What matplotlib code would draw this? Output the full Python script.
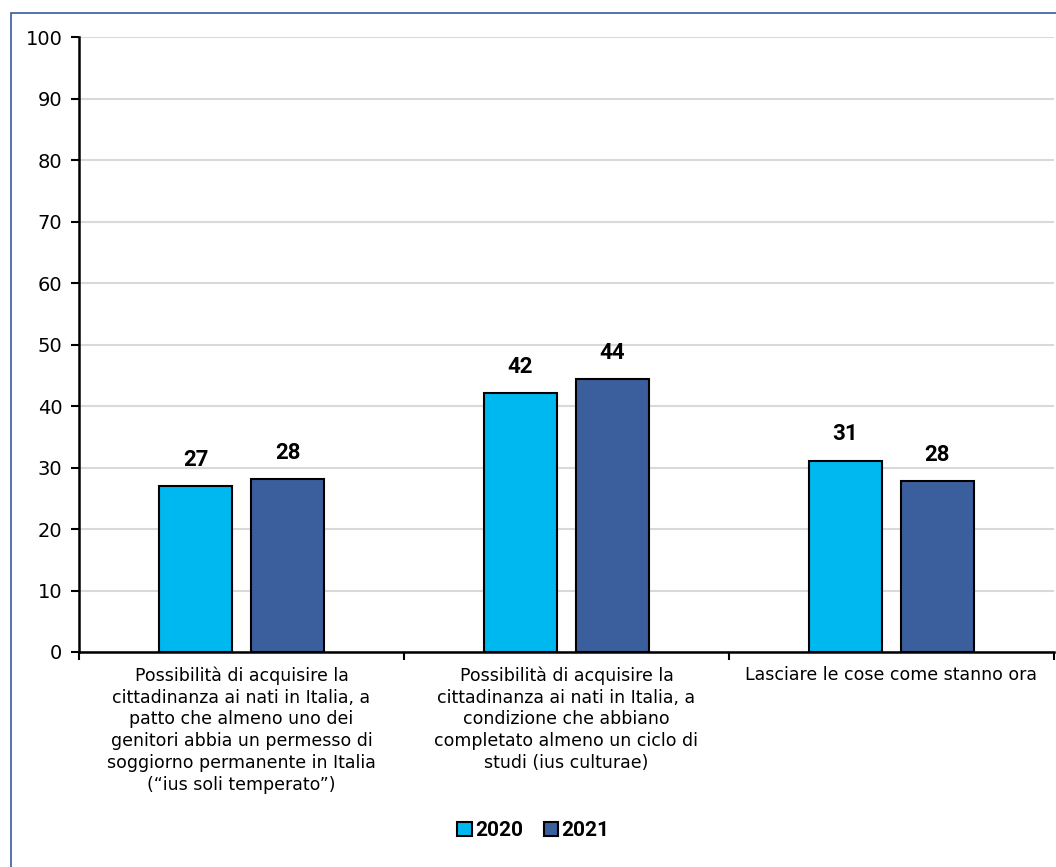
import numpy as np
import matplotlib.pyplot as plt
from matplotlib.patches import Rectangle

categories = [
    "Possibilità di acquisire la\ncittadinanza ai nati in Italia, a\npatto che almeno uno dei\ngenitori abbia un permesso di\nsoggiorno permanente in Italia\n(\u201cius soli temperato\u201d)",
    "Possibilità di acquisire la\ncittadinanza ai nati in Italia, a\ncondizione che abbiano\ncompletato almeno un ciclo di\nstudi (ius culturae)",
    "Lasciare le cose come stanno ora",
]
series_names = ["2020", "2021"]
values_2020 = [27.0, 42.1, 31.1]
values_2021 = [28.1, 44.4, 27.8]
colors = ["#00B8F0", "#3A5F9C"]

plt.rcParams['font.family'] = ['DejaVu Sans']

fig = plt.figure(figsize=(10.56, 8.67), dpi=100)
ax = fig.add_axes([0.0748, 0.248, 0.9232, 0.709])

# frame around the chart
fig.patches.append(Rectangle((11/1056, -0.01), 1.0, 1 - 13/867 + 0.01,
                             transform=fig.transFigure, fill=False,
                             edgecolor="#3A5A9C", linewidth=1.2))

x = np.arange(len(categories))
w = 0.225
off = 0.1415
b1 = ax.bar(x - off, values_2020, w, color=colors[0], edgecolor="black", linewidth=1.5, label=series_names[0], zorder=3)
b2 = ax.bar(x + off, values_2021, w, color=colors[1], edgecolor="black", linewidth=1.5, label=series_names[1], zorder=3)

for bars in (b1, b2):
    for r in bars:
        ax.text(r.get_x() + r.get_width() / 2, r.get_height() + 2.5, "%.0f" % r.get_height(),
                ha="center", va="bottom", fontsize=16, fontweight="bold",
                family=["Roboto", "DejaVu Sans"])

ax.set_xlim(-0.5, 2.5)
ax.set_ylim(0, 100)
ax.set_yticks(range(0, 101, 10))
ax.tick_params(axis="y", labelsize=14, length=6, width=1.5, direction="out", pad=6)
ax.yaxis.grid(True, color="#d9d9d9", linewidth=1.5, zorder=0)
ax.set_axisbelow(True)

ax.set_xticks([-0.5, 0.5, 1.5, 2.5])
ax.set_xticklabels([])
ax.tick_params(axis="x", length=6, width=1.5, direction="out")
for i, c in enumerate(categories):
    ax.text(i, -2.3, c, ha="center", va="top", fontsize=12.5, linespacing=1.28,
            transform=ax.transData)

for s in ("top", "right"):
    ax.spines[s].set_visible(False)
for s in ("left", "bottom"):
    ax.spines[s].set_linewidth(1.8)

fig.legend(handles=[b1, b2], labels=series_names, loc="center", bbox_to_anchor=(0.505, 0.042),
           ncol=2, frameon=False, handlelength=0.7, handleheight=0.7, handletextpad=0.15,
           columnspacing=1.0, prop={"size": 15, "weight": "bold", "family": ["Roboto"]})

fig.savefig("out.png", dpi=100)
